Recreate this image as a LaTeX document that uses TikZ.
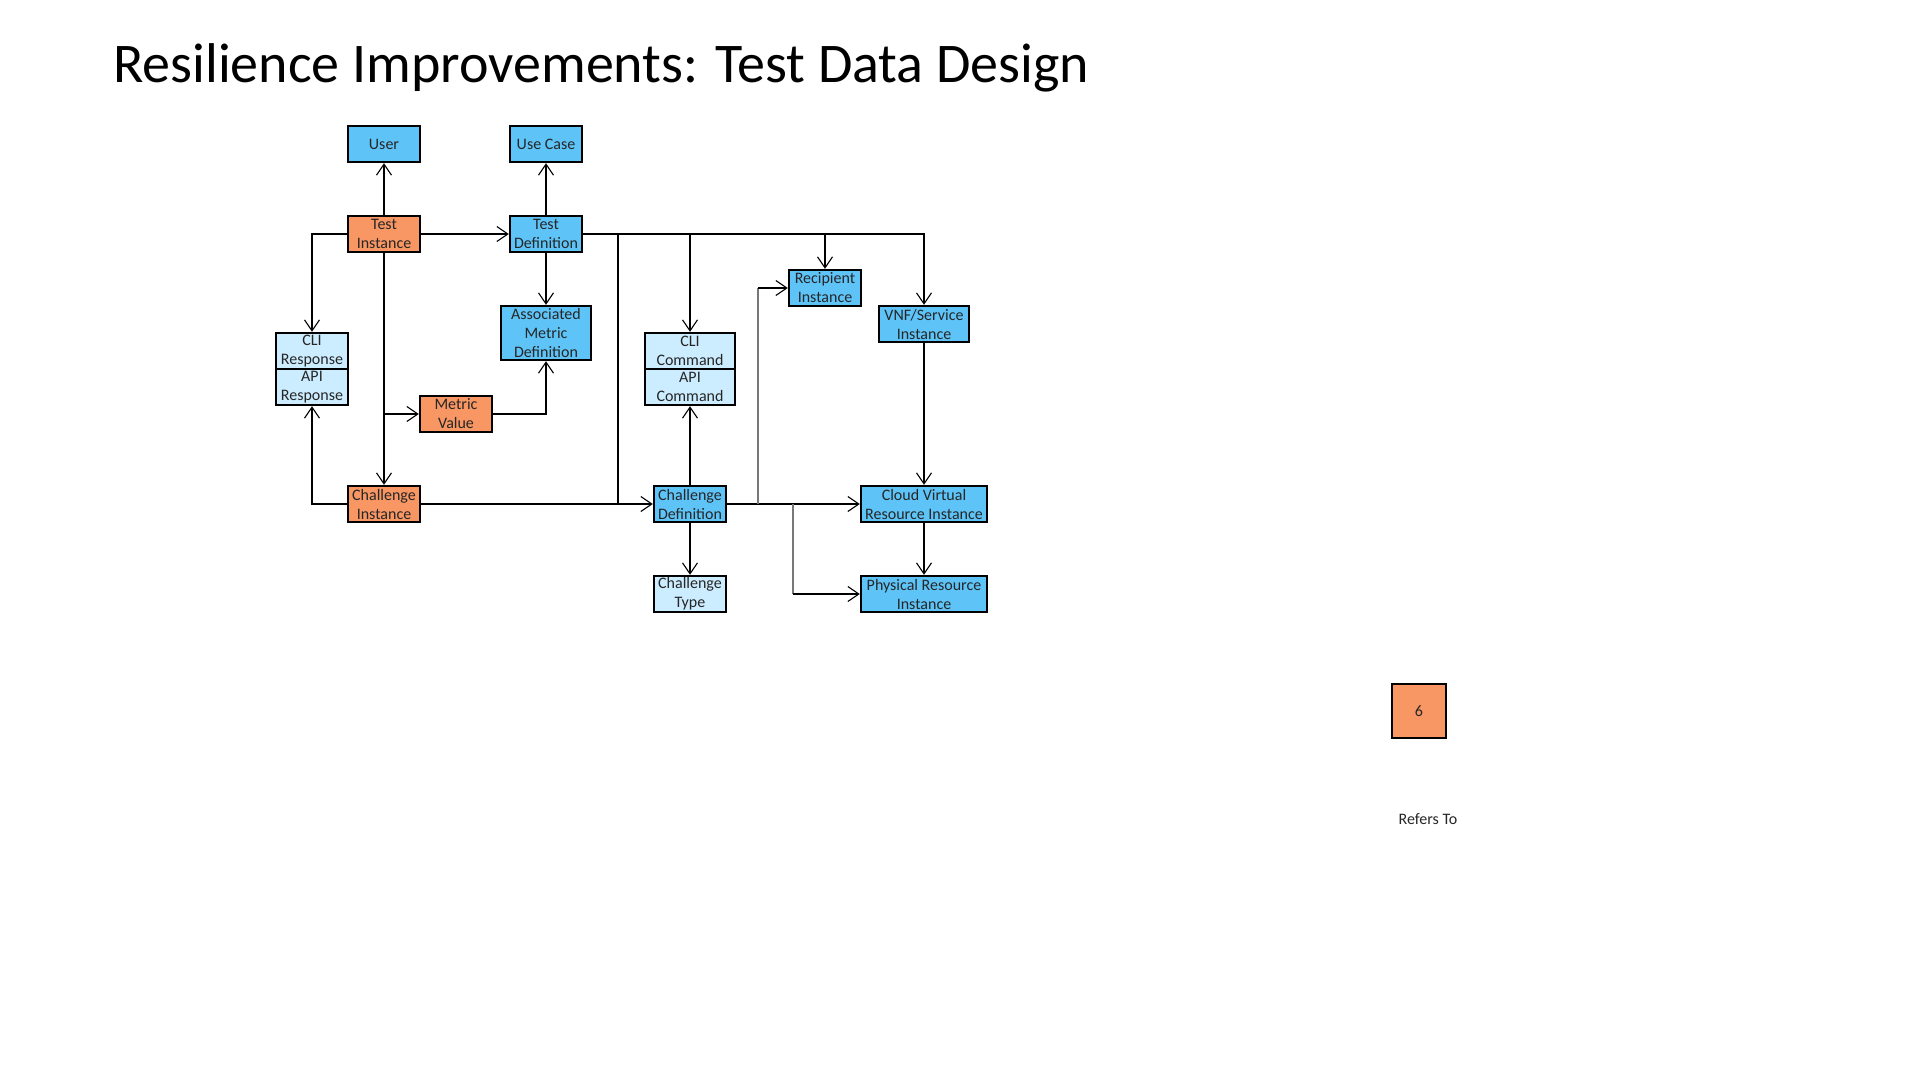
\documentclass[tikz,border=0pt]{standalone}
\usepackage{fontspec}
\setmainfont{Carlito}
\usetikzlibrary{arrows.meta,calc}
\definecolor{orangebox}{RGB}{248,150,100}
\definecolor{bluebox}{RGB}{94,196,248}
\definecolor{lightbox}{RGB}{204,236,255}
\definecolor{grayline}{RGB}{120,120,120}
\tikzset{
  box/.style={draw=black, line width=2.4pt, inner sep=0pt, align=center,
    font=\fontsize{16}{19}\selectfont, text=black!85},
  obox/.style={box, fill=orangebox},
  bbox/.style={box, fill=bluebox},
  lbox/.style={box, fill=lightbox},
  conn/.style={draw=black, line width=1.1pt, -{Straight Barb[length=11pt,width=15pt,line width=1.1pt]}},
  plain/.style={draw=black, line width=1.1pt},
  grayconn/.style={draw=grayline, line width=2.2pt},
}
\begin{document}
\begin{tikzpicture}[x=1pt,y=-1pt]
\useasboundingbox (0,0) rectangle (1920,1080);
\fill[white] (0,0) rectangle (1920,1080);

\node[anchor=base west, inner sep=0pt, font=\fontsize{56}{60}\selectfont] (title) at (113,82.5) {Resilience Improvements: Test Data Design};

% nodes
\node[bbox, minimum width=72, minimum height=36] (user) at (384,144) {User};
\node[bbox, minimum width=72, minimum height=36] (usecase) at (546,144) {Use Case};
\node[obox, minimum width=72, minimum height=36] (testinst) at (384,234) {Test\\Instance};
\node[bbox, minimum width=72, minimum height=36] (testdef) at (546,234) {Test\\Definition};
\node[bbox, minimum width=90, minimum height=54] (amd) at (546,333) {Associated\\Metric\\Definition};
\node[lbox, minimum width=72, minimum height=36] (cliresp) at (312,351) {CLI\\Response};
\node[lbox, minimum width=72, minimum height=36] (apiresp) at (312,387) {API\\Response};
\node[obox, minimum width=72, minimum height=36] (metric) at (456,414) {Metric\\Value};
\node[obox, minimum width=72, minimum height=36] (chinst) at (384,504) {Challenge\\Instance};
\node[bbox, minimum width=72, minimum height=36] (chdef) at (690,504) {Challenge\\Definition};
\node[lbox, minimum width=72, minimum height=36] (chtype) at (690,594) {Challenge\\Type};
\node[lbox, minimum width=90, minimum height=36] (clicmd) at (690,351) {CLI\\Command};
\node[lbox, minimum width=90, minimum height=36] (apicmd) at (690,387) {API\\Command};
\node[bbox, minimum width=72, minimum height=36] (recip) at (825,288) {Recipient\\Instance};
\node[bbox, minimum width=90, minimum height=36] (vnf) at (924,324) {VNF/Service\\Instance};
\node[bbox, minimum width=126, minimum height=36] (cloud) at (924,504) {Cloud Virtual\\Resource Instance};
\node[bbox, minimum width=126, minimum height=36] (phys) at (924,594) {Physical Resource\\Instance};

% legend
\node[obox, minimum width=54, minimum height=54] (legend) at (1419,711) {6};
\node[inner sep=0pt, font=\fontsize{16}{19}\selectfont, text=black!85] (refers) at (1428,819) {Refers To};

% junction coordinates
\coordinate (b1) at (testinst.south |- metric.west);
\coordinate (j1) at (618,234);
\coordinate (j2) at (618,504);
\coordinate (g1a) at (758,504);
\coordinate (g1b) at (758,288);
\coordinate (g2a) at (793,504);
\coordinate (g2b) at (793,594);
\coordinate (t1) at (clicmd.north |- testdef.east);
\coordinate (t2) at (recip.north |- testdef.east);

% connectors
\draw[conn] (testinst.north) -- (user.south);
\draw[conn] (testdef.north) -- (usecase.south);
\draw[conn] (testinst.east) -- (testdef.west);
\draw[conn] (testinst.west) -| (cliresp.north);
\draw[conn] (testinst.south) -- (chinst.north);
\draw[conn] (b1) -- (metric.west);
\draw[conn] (metric.east) -| (amd.south);
\draw[conn] (testdef.south) -- (amd.north);
\draw[conn] (chinst.west) -| (apiresp.south);
\draw[conn] (chinst.east) -- (chdef.west);
\draw[conn] (testdef.east) -| (vnf.north);
\draw[conn] (t1) -- (clicmd.north);
\draw[conn] (t2) -- (recip.north);
\draw[plain] (j1) -- (j2);
\draw[conn] (chdef.north) -- (apicmd.south);
\draw[conn] (chdef.south) -- (chtype.north);
\draw[conn] (chdef.east) -- (cloud.west);
\draw[grayconn] (g1a) -- (g1b);
\draw[conn] (g1b) -- (recip.west);
\draw[grayconn] (g2a) -- (g2b);
\draw[conn] (g2b) -- (phys.west);
\draw[conn] (vnf.south) -- (cloud.north);
\draw[conn] (cloud.south) -- (phys.north);
\end{tikzpicture}
\end{document}
